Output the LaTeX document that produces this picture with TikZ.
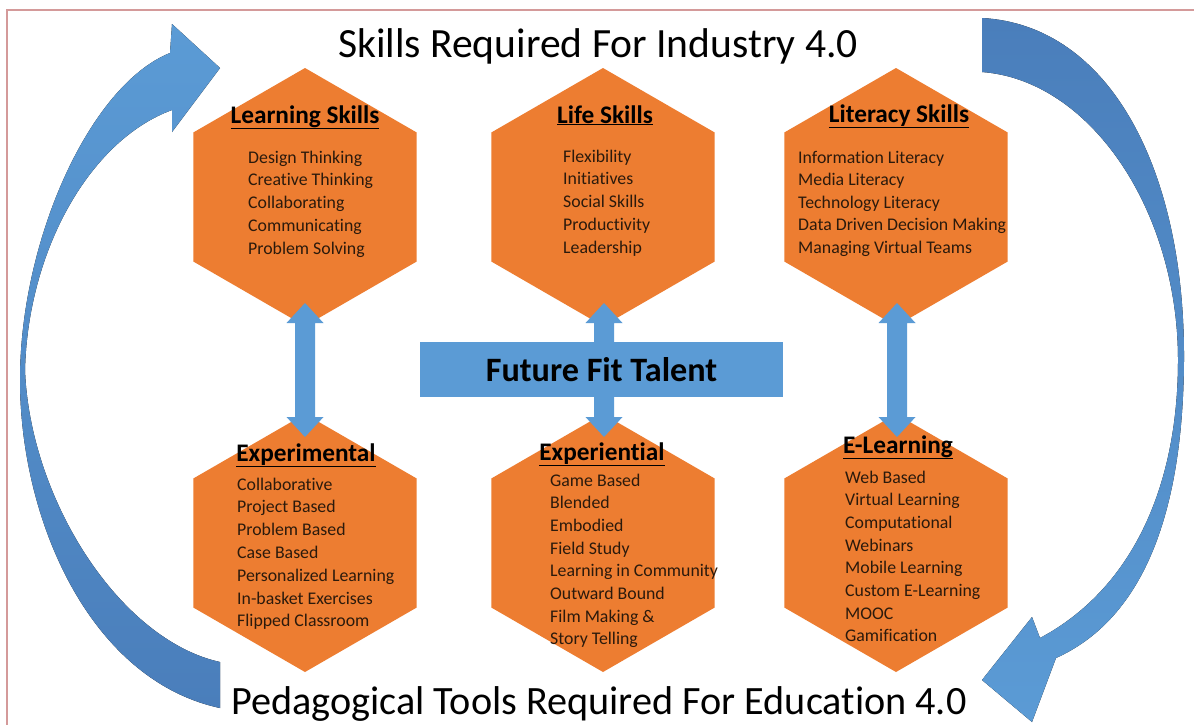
\documentclass[tikz,border=0pt]{standalone}
\usepackage{fontspec}
\setmainfont[Ligatures={NoCommon,NoContextual}]{Carlito}
\usetikzlibrary{calc}
\definecolor{hexor}{HTML}{ED7D31}
\definecolor{ablue}{HTML}{5B9BD5}
\definecolor{dblue}{HTML}{4A7EBB}
\definecolor{bord}{HTML}{D49A9A}
\definecolor{itemc}{HTML}{2B1A0C}
\newcommand\mydblarrow[2]{%
  \fill[ablue] (#1) -- ($(#1)+(18.5,20)$) -- ($(#1)+(10,20)$) -- ($(#2)+(10,-20)$) -- ($(#2)+(18.5,-20)$) -- (#2)
    -- ($(#2)+(-18.5,-20)$) -- ($(#2)+(-10,-20)$) -- ($(#1)+(-10,20)$) -- ($(#1)+(-18.5,20)$) -- cycle;}
\begin{document}
\begin{tikzpicture}[x=1pt,y=-1pt,
  ttl/.style={anchor=base, inner sep=0, font=\fontsize{41.6}{50}\selectfont},
  head/.style={anchor=base, inner sep=0, font=\bfseries\fontsize{25.3}{30}\selectfont},
  item/.style={anchor=base west, inner sep=0, text=itemc, font=\fontsize{17.8}{21}\selectfont},
  fftbox/.style={fill=ablue, inner sep=0, minimum width=363pt, minimum height=55pt, font=\bfseries\fontsize{34.2}{40}\selectfont},
  hexfill/.style={fill=hexor},
  border/.style={draw=bord, line width=1.5pt}]
\useasboundingbox (0,0) rectangle (1194,724);
\clip (0,0) rectangle (1194,724);
\fill[white] (0,0) rectangle (1194,724);
\draw[border] (7,730) -- (7,10) -- (1200,10);
% curved arrows
\fill[top color=ablue, bottom color=dblue]
  (220,708) .. controls (90,680) and (20,520) .. (20,380)
  .. controls (20,240) and (90,85) .. (170,53) -- (172,24) -- (220,68) -- (172,132) -- (172,110)
  .. controls (90,140) and (28,250) .. (25,370)
  .. controls (30,500) and (120,640) .. (220,662) -- cycle;
\fill[top color=dblue, bottom color=ablue]
  (982,18) .. controls (1110,25) and (1185,170) .. (1184,360)
  .. controls (1183,520) and (1140,620) .. (1056,658) -- (1032,722) -- (982,680) -- (1032,617) -- (1040,638)
  .. controls (1130,590) and (1178,490) .. (1178,360)
  .. controls (1178,210) and (1090,80) .. (982,72) -- cycle;
% hexagons
\foreach \n/\cx/\cy in {h1/305/197, h2/603/197, h3/896/197, h4/305/543, h5/603/543, h6/896/543} {
  \coordinate (\n) at (\cx,\cy);
  \fill[hexfill] (\n) +(90:129) -- +(30:129) -- +(-30:129) -- +(-90:129) -- +(-150:129) -- +(150:129) -- cycle;
}
% vertical double arrows
\coordinate (a1t) at ($(h1)+(0,106)$); \coordinate (a1b) at ($(h4)+(0,-106)$);
\coordinate (a2t) at ($(h2)+(1,106)$); \coordinate (a2b) at ($(h5)+(1,-106)$);
\coordinate (a3t) at ($(h3)+(1,106)$); \coordinate (a3b) at ($(h6)+(1,-106)$);
\mydblarrow{a1t}{a1b}
\mydblarrow{a2t}{a2b}
\mydblarrow{a3t}{a3b}
\node[fftbox] (fft) at (601.5,369.5) {Future Fit Talent};
% titles
\node[ttl] (t1) at (598,57) {Skills Required For Industry 4.0};
\node[ttl, font=\fontsize{40.2}{48}\selectfont] (t2) at (599,714) {Pedagogical Tools Required For Education 4.0};
% headings
\node[head] (hd1) at (305,123) {\underline{Learning Skills}};
\node[head] (hd2) at (605,123) {\underline{Life Skills}};
\node[head] (hd3) at (899,122) {\underline{Literacy Skills}};
\node[head] (hd4) at (306,461) {\underline{Experimental}};
\node[head] (hd5) at (602,460) {\underline{Experiential}};
\node[head] (hd6) at (898,453) {\underline{E-Learning}};
% items
\foreach \t [count=\i from 0] in {Design Thinking, Creative Thinking, Collaborating, Communicating, Problem Solving}
  \node[item] (la\i) at (248,163+22.8*\i) {\t};
\foreach \t [count=\i from 0] in {Flexibility, Initiatives, Social Skills, Productivity, Leadership}
  \node[item] (lb\i) at (563,162+22.8*\i) {\t};
\foreach \t [count=\i from 0] in {Information Literacy, Media Literacy, Technology Literacy, Data Driven Decision Making, Managing Virtual Teams}
  \node[item] (lc\i) at (798,163+22.5*\i) {\t};
\foreach \t [count=\i from 0] in {Collaborative, Project Based, Problem Based, Case Based, Personalized Learning, In-basket Exercises, Flipped Classroom}
  \node[item] (ld\i) at (237,490+22.8*\i) {\t};
\foreach \t [count=\i from 0] in {Game Based, Blended, Embodied, Field Study, Learning in Community, Outward Bound, Film Making \&, Story Telling}
  \node[item] (le\i) at (550,486+22.7*\i) {\t};
\foreach \t [count=\i from 0] in {Web Based, Virtual Learning, Computational, Webinars, Mobile Learning, Custom E-Learning, MOOC, Gamification}
  \node[item] (lf\i) at (845,483+22.7*\i) {\t};
\end{tikzpicture}
\end{document}
